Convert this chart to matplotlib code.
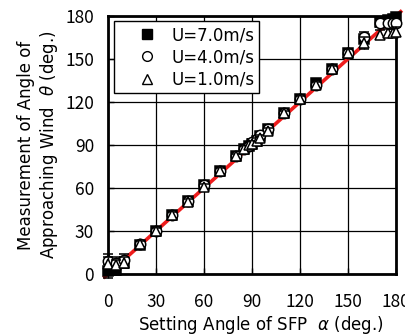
import matplotlib
matplotlib.use("Agg")
import matplotlib.pyplot as plt
from matplotlib.lines import Line2D

plt.rcParams['font.family'] = ['Noto Sans CJK JP', 'DejaVu Sans']

alpha = [0, 5, 10, 20, 30, 40, 50, 60, 70, 80, 85, 88, 90, 93, 95, 100,
         110, 120, 130, 140, 150, 160, 170, 175, 178, 180]
theta_u7 = [2, 3, 8, 20, 30, 41, 51, 62, 72, 82, 87, 89, 91, 93, 96, 101,
            112, 122, 133, 143, 154, 164, 176, 177, 178, 179]
theta_u4 = [9, 8, 10, 21, 30, 41, 51, 62, 72, 82, 87, 89, 92, 94, 97, 101,
            112, 122, 132, 143, 154, 165, 175, 175, 175, 175]
theta_u1 = [7, 6, 8, 21, 30, 41, 50, 61, 72, 82, 87, 90, 91, 93, 95, 100,
            112, 122, 132, 143, 154, 161, 167, 168, 168, 169]
err_u7 = [5, 4, 4, 2, 2, 2, 2, 2, 2, 2, 2, 2, 2, 2, 2, 2,
          2, 2, 2, 2, 2, 3, 3, 3, 3, 3]
err_u4 = [5, 4, 4, 2, 2, 2, 2, 2, 2, 2, 2, 2, 2, 2, 2, 2,
          2, 2, 2, 2, 3, 4, 3, 3, 3, 3]
err_u1 = [5, 4, 4, 2, 2, 2, 2, 2, 2, 2, 2, 2, 2, 2, 2, 2,
          2, 2, 2, 2, 3, 4, 3, 3, 3, 3]
line_x = [-2, 183]
line_y = [-2, 183]
labels = ["U=7.0m/s", "U=4.0m/s", "U=1.0m/s"]
ticks = [0, 30, 60, 90, 120, 150, 180]

fig = plt.figure(figsize=(4.06, 3.36), dpi=100)
ax = fig.add_axes([0.266, 0.1845, 0.709, 0.768])

ax.plot(line_x, line_y, color='#ee1c1c', lw=2.6, zorder=2, clip_on=False)

kw = dict(ls='none', ms=7.5, mec='black', mew=1.1, ecolor='black',
          elinewidth=1.0, capsize=3.5, capthick=1.0, clip_on=False)
ax.errorbar(alpha, theta_u7, yerr=err_u7, fmt='s', mfc='black', zorder=3, **kw)
ax.errorbar(alpha, theta_u4, yerr=err_u4, fmt='o', mfc='white', zorder=4, **kw)
ax.errorbar(alpha, theta_u1, yerr=err_u1, fmt='^', mfc='white', zorder=5, **kw)

ax.set_xlim(0, 180)
ax.set_ylim(0, 180)
ax.set_xticks(ticks)
ax.set_yticks(ticks)
ax.grid(True, color='black', lw=0.9)
ax.set_axisbelow(True)
for s in ax.spines.values():
    s.set_linewidth(2.0)
ax.tick_params(axis='both', direction='in', length=4, width=1, labelsize=12.5)
ax.tick_params(axis='x', pad=14)
ax.tick_params(axis='y', pad=10)

lab_font = ['DejaVu Sans']
ax.set_xlabel("Setting Angle of SFP  $\\alpha$ (deg.)", fontsize=12,
              labelpad=0, family=lab_font)
ax.xaxis.set_label_coords(0.53, -0.155)
ax.xaxis.label.set_va('top')
ax.set_ylabel("Measurement of Angle of\nApproaching Wind  $\\theta$ (deg.)",
              fontsize=12, labelpad=4, linespacing=1.15, family=lab_font)

hs = [Line2D([], [], ls='none', marker='s', ms=7, mfc='black', mec='black'),
      Line2D([], [], ls='none', marker='o', ms=7, mfc='white', mec='black'),
      Line2D([], [], ls='none', marker='^', ms=7.5, mfc='white', mec='black')]
leg = ax.legend(hs, labels, loc='upper left', bbox_to_anchor=(0.02, 0.98),
                borderaxespad=0, prop={'family': 'DejaVu Sans', 'size': 12},
                frameon=True, fancybox=False, framealpha=1,
                edgecolor='black', borderpad=0.3, handletextpad=-0.25,
                labelspacing=0.25, handlelength=3.4)
leg.get_frame().set_linewidth(1.0)
leg.set_zorder(10)

fig.savefig("out.png", dpi=100)
